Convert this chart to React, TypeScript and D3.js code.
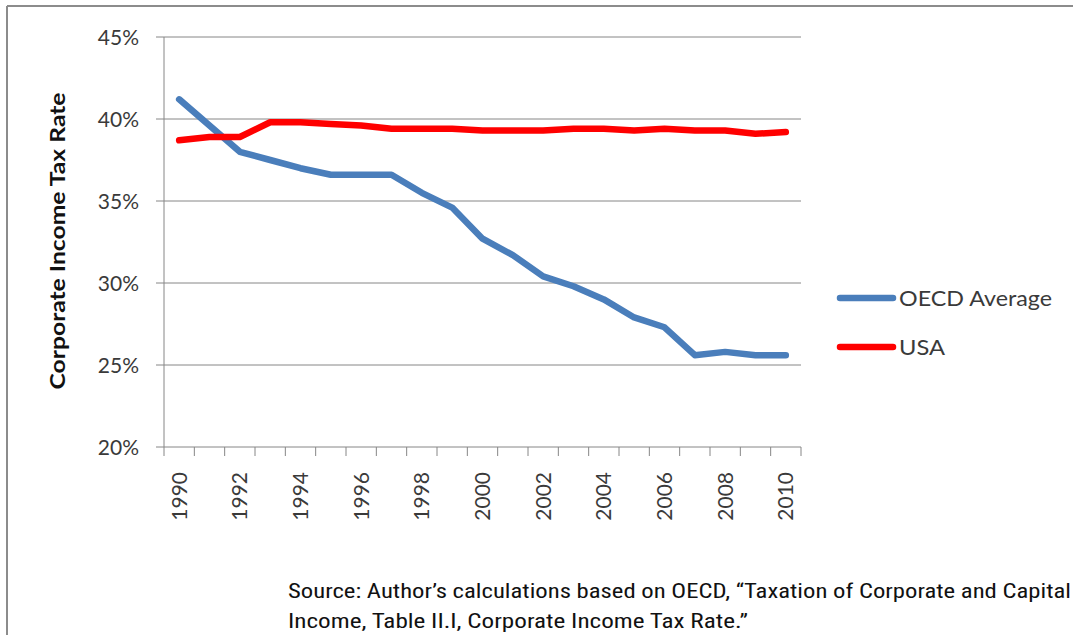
import React from "react";
import * as d3 from "d3";

const years = [1990,1991,1992,1993,1994,1995,1996,1997,1998,1999,2000,2001,2002,2003,2004,2005,2006,2007,2008,2009,2010];
const oecd = [41.2,39.6,38.0,37.5,37.0,36.6,36.6,36.6,35.5,34.6,32.7,31.7,30.4,29.8,29.0,27.9,27.3,25.6,25.8,25.6,25.6];
const usa = [38.7,38.9,38.9,39.8,39.8,39.7,39.6,39.4,39.4,39.4,39.3,39.3,39.3,39.4,39.4,39.3,39.4,39.3,39.3,39.1,39.2];
const yTicks = [20,25,30,35,40,45];
const xLabelYears = [1990,1992,1994,1996,1998,2000,2002,2004,2006,2008,2010];
const seriesNames = ["OECD Average","USA"];
const seriesColors = ["#4a7ebb","#ff0000"];
const yTitle = "Corporate Income Tax Rate";
const sourceLines = [
  "Source: Author\u2019s calculations based on OECD, \u201cTaxation of Corporate and Capital",
  "Income, Table II.I, Corporate Income Tax Rate.\u201d",
];

export default function App() {
  const W = 1073, H = 635;
  const left = 164, right = 801, top = 37, bottom = 447;
  const x = d3.scaleBand<number>().domain(years).range([left, right]).padding(0);
  const y = d3.scaleLinear().domain([20, 45]).range([bottom, top]);
  const line = d3.line<number>()
    .x((_, i) => (x(years[i]) as number) + x.bandwidth() / 2)
    .y((d) => y(d));
  const gridColor = "#868686";
  const textColor = "#3a3a3a";
  const font = "Lato, 'Open Sans', sans-serif";
  const boundaries = d3.range(years.length + 1).map((i) => left + i * x.bandwidth());

  return (
    <svg width={W} height={H} style={{ position: "absolute", left: 0, top: 0, background: "#fff" }}>
      <rect x={0} y={0} width={W} height={H} fill="#fff" />
      {/* border */}
      <line x1={7} y1={6} x2={W} y2={6} stroke="#8c8c8c" strokeWidth={2} />
      <line x1={7} y1={6} x2={7} y2={H} stroke="#8c8c8c" strokeWidth={2} />

      {/* gridlines and y ticks */}
      {yTicks.map((t) => (
        <g key={t}>
          <line x1={156} x2={right} y1={y(t)} y2={y(t)} stroke={gridColor} strokeWidth={1} />
          <text x={139} y={y(t)} dy="0.36em" textAnchor="end" fontFamily={font} fontSize={21} fill={textColor}>
            {t}%
          </text>
        </g>
      ))}
      {/* y axis */}
      <line x1={left} x2={left} y1={top} y2={bottom} stroke={gridColor} strokeWidth={1} />
      {/* x axis ticks */}
      {boundaries.map((bx, i) => (
        <line key={i} x1={bx} x2={bx} y1={bottom} y2={bottom + 9} stroke={gridColor} strokeWidth={1} />
      ))}
      {xLabelYears.map((yr) => {
        const cx = (x(yr) as number) + x.bandwidth() / 2;
        return (
          <text key={yr} transform={`translate(${cx},${bottom + 25}) rotate(-90)`} textAnchor="end" dy="0.36em"
            fontFamily={font} fontSize={21} fill={textColor}>
            {yr}
          </text>
        );
      })}

      {/* y title */}
      <text transform="translate(58,241) rotate(-90)" textAnchor="middle" dy="0.36em" fontFamily={font}
        fontWeight="bold" fontSize={20} fill="#111" textLength={297} lengthAdjust="spacingAndGlyphs">
        {yTitle}
      </text>

      {/* series */}
      {[oecd, usa].map((s, i) => (
        <path key={i} d={line(s) || ""} fill="none" stroke={seriesColors[i]} strokeWidth={6.5}
          strokeLinejoin="round" strokeLinecap="round" />
      ))}

      {/* legend */}
      {seriesNames.map((n, i) => {
        const ly = 298 + i * 49;
        return (
          <g key={n}>
            <line x1={840} x2={893} y1={ly} y2={ly} stroke={seriesColors[i]} strokeWidth={6.5} strokeLinecap="round" />
            <text x={899} y={ly} dy="0.36em" fontFamily={font} fontSize={21} fill={textColor}
              textLength={i === 0 ? 153 : 46} lengthAdjust="spacingAndGlyphs">
              {n}
            </text>
          </g>
        );
      })}

      {/* source */}
      {sourceLines.map((l, i) => (
        <text key={i} x={288} y={598 + i * 30} fontFamily="'Liberation Sans Narrow', 'Roboto Condensed', Lato, sans-serif"
          fontSize={21} fill="#111" textLength={i === 0 ? 783 : 460} lengthAdjust="spacingAndGlyphs">
          {l}
        </text>
      ))}
    </svg>
  );
}
